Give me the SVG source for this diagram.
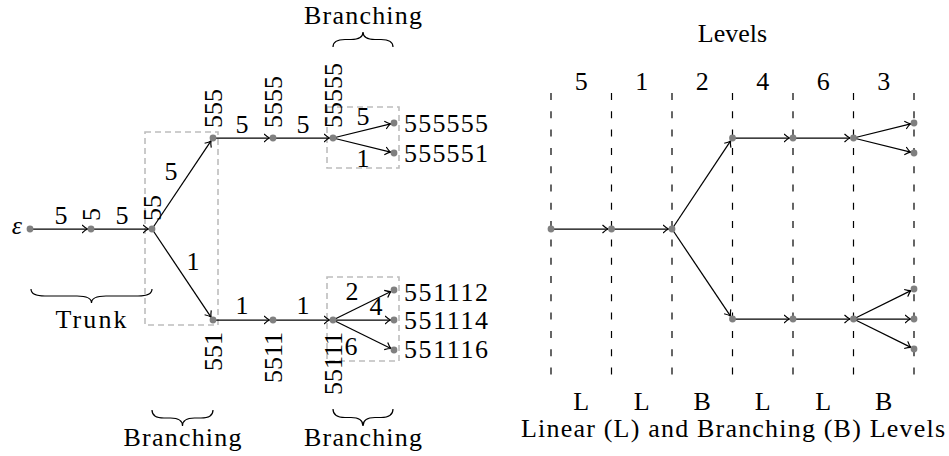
<svg xmlns="http://www.w3.org/2000/svg" width="949" height="456" viewBox="0 0 949 456" font-family="'Liberation Serif', 'Times New Roman', Tinos, 'DejaVu Serif', 'Noto Serif', serif">
<style>
text{font-family:'Liberation Serif','Times New Roman',Tinos,'DejaVu Serif','Noto Serif',serif;font-size:26px;fill:#000}
.m{text-anchor:middle}
.e{text-anchor:end}
.edge{stroke:#000;stroke-width:1.25;fill:none;marker-end:url(#arr)}
.dot{fill:#808080}
.box{fill:none;stroke:#bdbdbd;stroke-width:1.6;stroke-dasharray:6 4}
.lvl{stroke:#000;stroke-width:1.2;stroke-dasharray:7 11.3}
.brace{fill:none;stroke:#000;stroke-width:1.2}
</style>
<defs>
<marker id="arr" markerUnits="userSpaceOnUse" markerWidth="12" markerHeight="12" viewBox="-6 -6 12 12" refX="0" refY="0" orient="auto">
<path d="M-5.5,-4 Q-2,-0.8 0,0 Q-2,0.8 -5.5,4" fill="none" stroke="#000" stroke-width="1.2"/>
</marker>
</defs>

<g id="boxes">
<rect class="box" x="145" y="132" width="73" height="193"/>
<rect class="box" x="327" y="107" width="72" height="61"/>
<rect class="box" x="327" y="277" width="72" height="84"/>
</g>

<g id="level-lines">
<line class="lvl" x1="551" y1="93" x2="551" y2="381"/>
<line class="lvl" x1="611.5" y1="93" x2="611.5" y2="381"/>
<line class="lvl" x1="672" y1="93" x2="672" y2="381"/>
<line class="lvl" x1="732.5" y1="93" x2="732.5" y2="381"/>
<line class="lvl" x1="793" y1="93" x2="793" y2="381"/>
<line class="lvl" x1="853.5" y1="93" x2="853.5" y2="381"/>
<line class="lvl" x1="914" y1="93" x2="914" y2="381"/>
</g>

<g id="connectors">
<line class="edge" x1="30" y1="229" x2="87.5" y2="229"/>
<line class="edge" x1="91" y1="229" x2="148.5" y2="229"/>
<line class="edge" x1="152" y1="229" x2="211" y2="140.9"/>
<line class="edge" x1="152" y1="229" x2="211" y2="317.1"/>
<line class="edge" x1="213" y1="138" x2="269.5" y2="138"/>
<line class="edge" x1="273" y1="138" x2="329.5" y2="138"/>
<line class="edge" x1="333" y1="138" x2="390.6" y2="123.8"/>
<line class="edge" x1="333" y1="138" x2="390.6" y2="152.2"/>
<line class="edge" x1="213" y1="320" x2="269.5" y2="320"/>
<line class="edge" x1="273" y1="320" x2="329.5" y2="320"/>
<line class="edge" x1="333" y1="320" x2="390.9" y2="291.5"/>
<line class="edge" x1="333" y1="320" x2="390.5" y2="320"/>
<line class="edge" x1="333" y1="320" x2="390.9" y2="348.5"/>

<line class="edge" x1="551" y1="229" x2="608" y2="229"/>
<line class="edge" x1="611.5" y1="229" x2="668.5" y2="229"/>
<line class="edge" x1="672" y1="229" x2="730.6" y2="140.9"/>
<line class="edge" x1="672" y1="229" x2="730.5" y2="316.1"/>
<line class="edge" x1="732.5" y1="138" x2="789.5" y2="138"/>
<line class="edge" x1="793" y1="138" x2="850" y2="138"/>
<line class="edge" x1="853.5" y1="138" x2="910.6" y2="123.8"/>
<line class="edge" x1="853.5" y1="138" x2="910.6" y2="152.2"/>
<line class="edge" x1="732.5" y1="319" x2="789.5" y2="319"/>
<line class="edge" x1="793" y1="319" x2="850" y2="319"/>
<line class="edge" x1="853.5" y1="319" x2="910.9" y2="290.6"/>
<line class="edge" x1="853.5" y1="319" x2="910.5" y2="319"/>
<line class="edge" x1="853.5" y1="319" x2="910.9" y2="347.4"/>
</g>

<g id="edge-labels">
<text class="m" x="61" y="224">5</text>
<text class="m" x="122" y="224">5</text>
<text class="m" x="171" y="180">5</text>
<text class="m" x="193" y="270">1</text>
<text class="m" x="242" y="133">5</text>
<text class="m" x="303" y="133">5</text>
<text class="m" x="363" y="125">5</text>
<text class="m" x="363" y="167">1</text>
<text class="m" x="242" y="314">1</text>
<text class="m" x="303" y="314">1</text>
<text class="m" x="352" y="300">2</text>
<text class="m" x="376" y="315">4</text>
<text class="m" x="351" y="355">6</text>
</g>

<g id="n-eps"><circle class="dot" cx="30" cy="229" r="3.4"/><text class="e" x="22" y="234" font-style="italic">ε</text></g>
<g id="n-5"><circle class="dot" cx="91" cy="229" r="3.4"/><text transform="translate(100,221) rotate(-90)">5</text></g>
<g id="n-55"><circle class="dot" cx="152" cy="229" r="3.4"/><text transform="translate(161,221) rotate(-90)">55</text></g>
<g id="n-555"><circle class="dot" cx="213" cy="138" r="3.4"/><text transform="translate(222,128) rotate(-90)">555</text></g>
<g id="n-5555"><circle class="dot" cx="273" cy="138" r="3.4"/><text transform="translate(282,128) rotate(-90)">5555</text></g>
<g id="n-55555"><circle class="dot" cx="333" cy="138" r="3.4"/><text transform="translate(342,128) rotate(-90)">55555</text></g>
<g id="n-555555"><circle class="dot" cx="394" cy="123" r="3.4"/><text x="404" y="131.5" textLength="84">555555</text></g>
<g id="n-555551"><circle class="dot" cx="394" cy="153" r="3.4"/><text x="404" y="162" textLength="84">555551</text></g>
<g id="n-551"><circle class="dot" cx="213" cy="320" r="3.4"/><text class="e" transform="translate(222,332) rotate(-90)">551</text></g>
<g id="n-5511"><circle class="dot" cx="273" cy="320" r="3.4"/><text class="e" transform="translate(282,332) rotate(-90)">5511</text></g>
<g id="n-55111"><circle class="dot" cx="333" cy="320" r="3.4"/><text class="e" transform="translate(342,332) rotate(-90)">55111</text></g>
<g id="n-551112"><circle class="dot" cx="394" cy="290" r="3.4"/><text x="404" y="301" textLength="84">551112</text></g>
<g id="n-551114"><circle class="dot" cx="394" cy="320" r="3.4"/><text x="404" y="328.5" textLength="84">551114</text></g>
<g id="n-551116"><circle class="dot" cx="394" cy="350" r="3.4"/><text x="404" y="358" textLength="84">551116</text></g>

<g id="braces">
<path class="brace" d="M333,47 Q333,39.5 345,39.5 L351,39.5 Q363,39.5 363,32 Q363,39.5 375,39.5 L381,39.5 Q393,39.5 393,47"/>
<path class="brace" d="M31,289 Q31,296 45,296 L77,296 Q91.5,296 91.5,303 Q91.5,296 106,296 L138,296 Q152,296 152,289"/>
<path class="brace" d="M152,410 Q152,418 164,418 L170.5,418 Q182.5,418 182.5,426 Q182.5,418 194.5,418 L201,418 Q213,418 213,410"/>
<path class="brace" d="M333,409 Q333,417.5 345,417.5 L351,417.5 Q363,417.5 363,426 Q363,417.5 375,417.5 L381,417.5 Q393,417.5 393,409"/>
</g>
<g id="brace-labels">
<text class="m" x="363" y="24" textLength="118">Branching</text>
<text class="m" x="91" y="328" textLength="71">Trunk</text>
<text class="m" x="182.5" y="446" textLength="118">Branching</text>
<text class="m" x="363" y="446" textLength="118">Branching</text>
</g>

<g id="r-a"><circle class="dot" cx="551" cy="229" r="3.4"/></g>
<g id="r-b"><circle class="dot" cx="611.5" cy="229" r="3.4"/></g>
<g id="r-c"><circle class="dot" cx="672" cy="229" r="3.4"/></g>
<g id="r-t1"><circle class="dot" cx="732.5" cy="138" r="3.4"/></g>
<g id="r-t2"><circle class="dot" cx="793" cy="138" r="3.4"/></g>
<g id="r-t3"><circle class="dot" cx="853.5" cy="138" r="3.4"/></g>
<g id="r-t4"><circle class="dot" cx="914" cy="123" r="3.4"/></g>
<g id="r-t5"><circle class="dot" cx="914" cy="153" r="3.4"/></g>
<g id="r-b1"><circle class="dot" cx="732.5" cy="319" r="3.4"/></g>
<g id="r-b2"><circle class="dot" cx="793" cy="319" r="3.4"/></g>
<g id="r-b3"><circle class="dot" cx="853.5" cy="319" r="3.4"/></g>
<g id="r-b4"><circle class="dot" cx="914" cy="289" r="3.4"/></g>
<g id="r-b5"><circle class="dot" cx="914" cy="319" r="3.4"/></g>
<g id="r-b6"><circle class="dot" cx="914" cy="349" r="3.4"/></g>

<g id="level-labels">
<text class="m" x="732.5" y="42">Levels</text>
<text class="m" x="581.2" y="90">5</text>
<text class="m" x="641.7" y="90">1</text>
<text class="m" x="702.2" y="90">2</text>
<text class="m" x="762.7" y="90">4</text>
<text class="m" x="823.2" y="90">6</text>
<text class="m" x="883.7" y="90">3</text>
<text class="m" x="581.2" y="410">L</text>
<text class="m" x="641.7" y="410">L</text>
<text class="m" x="702.2" y="410">B</text>
<text class="m" x="762.7" y="410">L</text>
<text class="m" x="823.2" y="410">L</text>
<text class="m" x="883.7" y="410">B</text>
<text class="m" x="733" y="437" textLength="424">Linear (L) and Branching (B) Levels</text>
</g>
</svg>
